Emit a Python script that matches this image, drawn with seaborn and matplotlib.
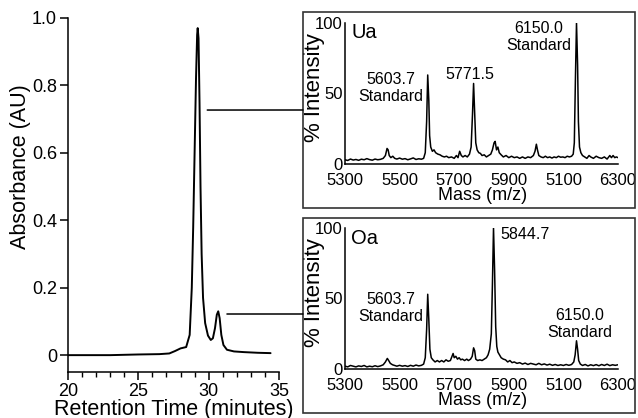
import numpy as np
import pandas as pd
import matplotlib
matplotlib.use("Agg")
import matplotlib.pyplot as plt
from matplotlib.patches import Rectangle, ConnectionPatch
import seaborn as sns

# ---------------- data ----------------
rt_min = [20, 23, 25, 26.5, 27.2, 27.6, 28.0, 28.4, 28.65, 28.8, 28.9, 29.0, 29.1,
          29.18, 29.22, 29.28, 29.35, 29.42, 29.5, 29.6, 29.75, 29.95, 30.15, 30.3,
          30.45, 30.58, 30.68, 30.78, 30.9, 31.05, 31.3, 31.8, 32.5, 33.5, 34.4]
absorbance = [0, 0, 0.002, 0.003, 0.005, 0.012, 0.02, 0.024, 0.06, 0.2, 0.38, 0.6, 0.82,
              0.95, 0.97, 0.94, 0.75, 0.5, 0.3, 0.17, 0.095, 0.058, 0.045, 0.05,
              0.08, 0.12, 0.13, 0.11, 0.06, 0.03, 0.016, 0.011, 0.009, 0.007, 0.006]

ua_mass = [5300, 5310, 5320, 5330, 5340, 5350, 5360, 5370, 5380, 5390, 5400, 5410, 5420,
           5430, 5440, 5448, 5454, 5458, 5462, 5468, 5475, 5482, 5490, 5500, 5510, 5520,
           5530, 5540, 5550, 5560, 5570, 5580, 5588, 5594, 5599, 5603, 5607, 5610, 5614,
           5620, 5626, 5632, 5640, 5648, 5656, 5664, 5672, 5680, 5690, 5700, 5708, 5714,
           5720, 5726, 5732, 5740, 5748, 5756, 5762, 5767, 5771, 5775, 5779, 5784, 5790,
           5796, 5802, 5810, 5818, 5826, 5834, 5840, 5846, 5850, 5855, 5860, 5865, 5872,
           5880, 5890, 5900, 5910, 5920, 5930, 5940, 5950, 5960, 5970, 5980, 5990, 5996,
           6001, 6005, 6010, 6018, 6026, 6034, 6042, 6050, 6058, 6066, 6074, 6082, 6090,
           6098, 6106, 6114, 6122, 6130, 6136, 6140, 6144, 6148, 6152, 6155, 6159, 6164,
           6170, 6178, 6186, 6194, 6200, 6210, 6220, 6230, 6240, 6250, 6260, 6270, 6276,
           6282, 6288, 6294, 6300]
ua_int = [3, 2.5, 3.5, 2.8, 3.2, 2.6, 3.4, 3.0, 3.8, 3.1, 2.7, 3.5, 3.0,
          3.3, 4.0, 6, 11, 10, 6, 4.5, 5.5, 4, 3.5, 4.2, 3.4, 3.8,
          3.0, 3.6, 4.3, 3.2, 3.7, 3.4, 4, 8, 30, 63, 45, 20, 12,
          9, 10, 8, 7, 6.5, 5.5, 5, 5.5, 4.5, 5, 4, 6, 4.5,
          9, 6, 5, 6, 5, 7, 12, 35, 57, 35, 15, 10, 8,
          7.5, 6, 6.5, 5, 6, 7, 10, 15, 16, 10, 12, 8, 6.5,
          5, 6, 4.5, 5.5, 4.5, 5, 4, 5, 4, 5, 4.5, 6, 9,
          14, 10, 6, 5, 4.5, 5.5, 4.5, 5, 4.2, 5, 4.5, 5.5, 4.8,
          5, 4.5, 5.5, 5, 5.5, 7, 15, 60, 100, 70, 30, 12, 8,
          6, 5, 4, 6, 5, 4, 5.5, 4.5, 4, 5, 3.5, 6, 4.5,
          6, 4.5, 5, 4.5]

oa_mass = [5300, 5310, 5320, 5330, 5340, 5350, 5360, 5370, 5380, 5390, 5400, 5410, 5420,
           5430, 5440, 5448, 5455, 5460, 5466, 5474, 5482, 5490, 5500, 5510, 5520, 5530,
           5540, 5550, 5560, 5570, 5580, 5588, 5594, 5599, 5603, 5607, 5611, 5616, 5622,
           5630, 5638, 5646, 5654, 5662, 5670, 5678, 5686, 5692, 5696, 5700, 5706, 5712,
           5718, 5724, 5730, 5738, 5746, 5752, 5760, 5766, 5771, 5775, 5779, 5786, 5794,
           5802, 5810, 5818, 5824, 5830, 5836, 5840, 5844, 5848, 5852, 5856, 5860, 5866,
           5872, 5880, 5888, 5896, 5904, 5912, 5920, 5930, 5940, 5950, 5960, 5970, 5980,
           5990, 6000, 6010, 6020, 6030, 6040, 6050, 6060, 6070, 6080, 6090, 6100, 6110,
           6120, 6130, 6138, 6143, 6148, 6152, 6156, 6162, 6170, 6180, 6190, 6200, 6210,
           6220, 6230, 6240, 6250, 6260, 6270, 6280, 6290, 6300]
oa_int = [2, 1.5, 2.5, 2, 1.5, 2.2, 1.8, 2.5, 1.5, 2, 1.6, 2.3, 1.7,
          2.2, 3, 5, 7.5, 6, 4, 3, 2.5, 2.0, 2.6, 2, 2.4, 1.8,
          2.6, 2, 2.8, 2.2, 2.6, 3.5, 8, 28, 53, 35, 14, 8, 6.5,
          5, 6, 5, 6, 5, 6.5, 5.5, 6, 9, 11, 8, 9, 7,
          8, 6.5, 7, 6, 7, 6, 7, 9, 15, 13, 7, 6, 6.5,
          6, 7, 8, 10, 14, 25, 60, 100, 70, 30, 16, 12, 10,
          8, 7, 6.5, 5, 6, 4.5, 5, 4, 4.5, 3.5, 4.2, 3.2, 4,
          3.5, 3, 4, 3, 3.6, 2.8, 3.4, 2.6, 3.2, 2.5, 3, 2.5, 3.2,
          2.6, 3.2, 5, 10, 20, 14, 6, 3.5, 2.5, 3.2, 2.2, 3, 2.4,
          3.1, 2.3, 3.2, 2.5, 3.4, 2.4, 3, 2.6, 3]

main_xticks = [20, 25, 30, 35]
main_yticks = [0, 0.2, 0.4, 0.6, 0.8, 1.0]
main_yticklabels = ["0", "0.2", "0.4", "0.6", "0.8", "1.0"]
ms_xticks = [5300, 5500, 5700, 5900, 6100, 6300]
ms_xticklabels = ["5300", "5500", "5700", "5900", "5100", "6300"]
ms_yticks = [0, 50, 100]
ms_yticklabels = ["0", "50", "100"]

# ---------------- style ----------------
sns.set_style("ticks")
plt.rcParams["font.family"] = ["Liberation Sans", "DejaVu Sans"]
plt.rcParams["axes.linewidth"] = 1.1

W, H = 638, 418
fig = plt.figure(figsize=(W / 100, H / 100), dpi=100)


def fx(px):
    return px / W


def fy(py):
    return 1 - py / H


# main chromatogram
ax = fig.add_axes([fx(68), fy(372), fx(279) - fx(68), fy(18) - fy(372)])
chrom = pd.DataFrame({"t": rt_min, "a": absorbance})
sns.lineplot(data=chrom, x="t", y="a", ax=ax, color="black", lw=1.4,
             estimator=None, sort=False)
ax.set_xlim(20, 35)
ax.set_ylim(-0.05, 1.0)
ax.set_xticks(main_xticks)
ax.set_xticks(np.arange(20, 36, 1), minor=True)
ax.set_yticks(main_yticks)
ax.set_yticklabels(main_yticklabels)
ax.tick_params(axis="both", which="major", labelsize=13, length=6, width=1.1,
               color="black", labelcolor="black", pad=2)
ax.tick_params(axis="x", which="minor", length=3.5, width=1.0, color="black")
ax.set_xlabel("Retention Time (minutes)", fontsize=15.5, color="black")
ax.set_ylabel("Absorbance (AU)", fontsize=15.5, color="black")
ax.xaxis.set_label_coords(0.5, -0.075)
ax.yaxis.set_label_coords(-0.175, 0.58)
for s in ["top", "right"]:
    ax.spines[s].set_visible(False)
for s in ["left", "bottom"]:
    ax.spines[s].set_color("black")
ax.patch.set_alpha(0)


def inset(top_px, bot_px, mass, inten, title, notes):
    a = fig.add_axes([fx(345), fy(bot_px), fx(618) - fx(345), fy(top_px) - fy(bot_px)])
    df = pd.DataFrame({"m": mass, "i": inten})
    sns.lineplot(data=df, x="m", y="i", ax=a, color="black", lw=1.1,
                 estimator=None, sort=False)
    a.set_xlim(5300, 6300)
    a.set_ylim(0, 100)
    a.set_xticks(ms_xticks)
    a.set_xticklabels(ms_xticklabels)
    a.set_yticks(ms_yticks)
    a.set_yticklabels(ms_yticklabels)
    a.tick_params(axis="both", length=0, labelsize=12, labelcolor="black")
    a.tick_params(axis="x", pad=6.5)
    a.tick_params(axis="y", pad=1.5)
    a.set_xlabel("Mass (m/z)", fontsize=13, color="black")
    a.set_ylabel("% Intensity", fontsize=16, color="black")
    a.xaxis.set_label_coords(0.505, -0.16)
    a.yaxis.set_label_coords(-0.072, 0.54)
    for s in ["top", "right"]:
        a.spines[s].set_visible(False)
    for s in ["left", "bottom"]:
        a.spines[s].set_color("black")
    a.patch.set_alpha(0)
    a.text(0.022, 0.995, title, transform=a.transAxes, ha="left", va="top",
           fontsize=14.5, color="black")
    for (x, y, txt, ha) in notes:
        a.text(x, y, txt, ha=ha, va="center", fontsize=11.5, color="black",
               linespacing=1.15, multialignment="center")
    return a


inset(22.7, 164, ua_mass, ua_int, "Ua",
      [(5468, 54, "5603.7\nStandard", "center"),
       (5758, 63, "5771.5", "center"),
       (6008, 90, "6150.0\nStandard", "center")])
inset(228, 369, oa_mass, oa_int, "Oa",
      [(5468, 43.5, "5603.7\nStandard", "center"),
       (5870, 95.5, "5844.7", "left"),
       (6161, 32, "6150.0\nStandard", "center")])

# frames
for top, bot in [(12, 208), (218, 413)]:
    fig.add_artist(Rectangle((fx(303), fy(bot)), fx(635) - fx(303), fy(top) - fy(bot),
                             transform=fig.transFigure, fill=False,
                             edgecolor="#333333", lw=1.2))

# connectors
for (tx, ay, py) in [(29.9, 0.727, 110), (31.3, 0.122, 314)]:
    con = ConnectionPatch(xyA=(tx, ay), coordsA=ax.transData,
                          xyB=(fx(303), fy(py)), coordsB=fig.transFigure,
                          color="black", lw=1.1)
    fig.add_artist(con)

fig.savefig("out.png", dpi=100)
